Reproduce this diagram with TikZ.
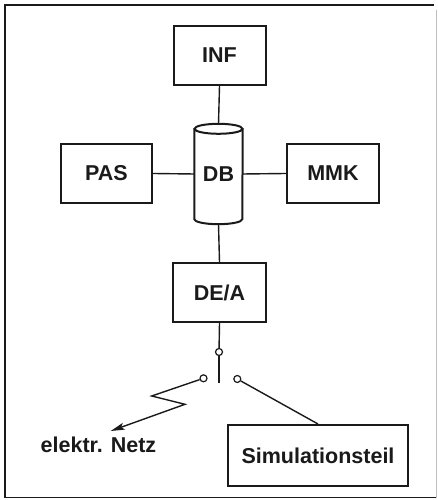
\documentclass[tikz,border=0pt]{standalone}
\usepackage{fontspec}
\setmainfont{Liberation Sans}
\usetikzlibrary{arrows.meta,calc}
\definecolor{ink}{HTML}{1A1A1A}
\begin{document}
\begin{tikzpicture}[x=1pt,y=1pt,
  box/.style={draw=ink, line width=2pt, minimum width=#1, minimum height=59pt, inner sep=0pt, text=ink,
    font=\fontsize{21.5}{25}\selectfont\bfseries},
  box/.default=92pt,
  conn/.style={draw=ink, line width=1.4pt},
  contact/.style={circle, draw=ink, line width=1.2pt, fill=white, minimum size=7pt, inner sep=0pt},
  lbl/.style={text=ink, font=\fontsize{21.5}{25}\selectfont\bfseries, inner sep=0pt}]
\useasboundingbox (0,0) rectangle (438,500);
% frame
\draw[ink, line width=1.4pt] (436,2.3) -- (5,2.3) -- (5,495) -- (434,495);
\draw[black!25, line width=0.8pt] (436.5,2.3) -- (436.5,490);
% nodes
\node[box] (inf) at (219.5,444.5) {INF};
\node[box=91pt] (pas) at (106.5,326.5) {PAS};
\node[box] (mmk) at (333,326.5) {MMK};
\node[lbl, minimum width=48pt, minimum height=100pt] (db) at (218.5,326) {DB};
\node[box=92.5pt] (dea) at (219.5,207.5) {DE/A};
\node[box=180pt, minimum height=61pt] (sim) at (318,44.5) {Simulationsteil};
\node[lbl] (netz) at (98.5,55) {elektr. Netz};
% cylinder
\draw[ink, line width=2pt]
  ($(db.north west)+(0,-5)$) -- ($(db.south west)+(0,5)$)
  arc[start angle=180, end angle=360, x radius=24pt, y radius=5pt]
  -- ($(db.north east)+(0,-5)$);
\draw[ink, line width=2pt] ($(db.north)+(0,-5)$) ellipse[x radius=24pt, y radius=5pt];
% connectors
\draw[conn] (inf.south) -- (db.north);
\draw[conn] (db.south) -- (dea.north);
\draw[conn] (pas.east) -- (db.west);
\draw[conn] (db.east) -- (mmk.west);
% switch
\node[contact] (c0) at (219,148) {};
\node[contact] (cl) at (203.5,121.7) {};
\node[contact] (cr) at (237.3,121) {};
\coordinate (lever) at (219,117);
\coordinate (z1) at (151.7,104);
\coordinate (z2) at (185,95.7);
\coordinate (tip) at (110.7,69);
\draw[conn] (dea.south) -- (c0);
\draw[conn, line width=1.6pt] (c0) -- (lever);
\draw[conn, -{Stealth[length=14pt, width=7pt, inset=3pt]}] (cl) -- (z1) -- (z2) -- (tip);
\draw[conn] (cr) -- (sim.north);
\end{tikzpicture}
\end{document}
